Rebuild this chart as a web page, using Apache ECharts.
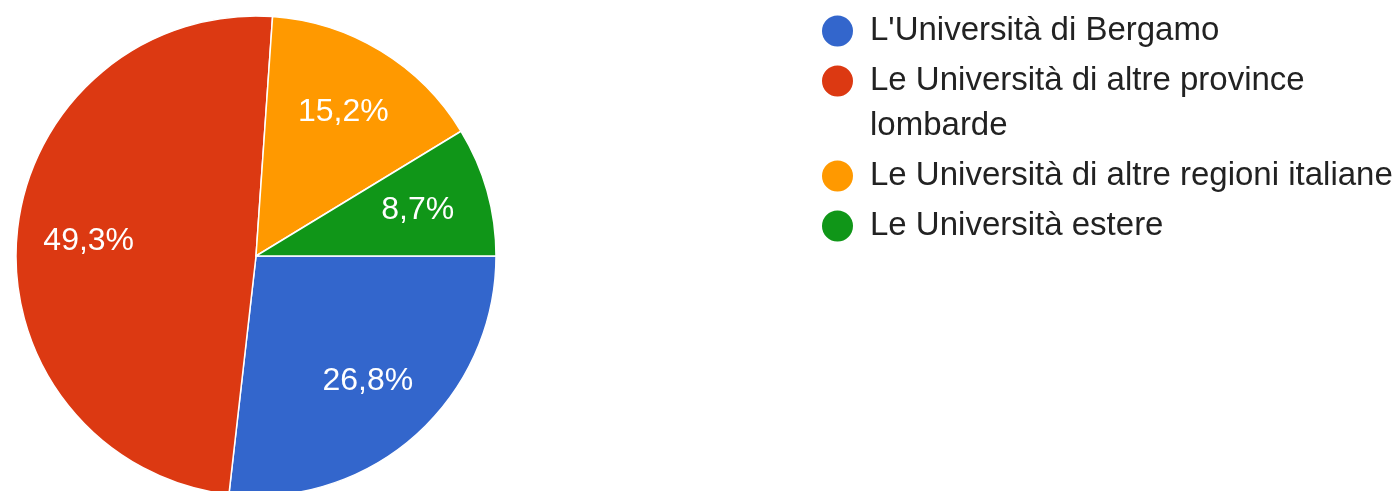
<!DOCTYPE html>
<html>
<head>
<meta charset="utf-8">
<script src="https://cdn.jsdelivr.net/npm/echarts@6/dist/echarts.min.js"></script>
<style>
  html, body { margin: 0; padding: 0; background: #fff; }
  #main { width: 1397px; height: 491px; }
</style>
</head>
<body>
<div id="main"></div>
<script>
  // dati
  var categories = ["L'Università di Bergamo", 'Le Università di altre province lombarde', 'Le Università di altre regioni italiane', 'Le Università estere'];
  var values = [26.8, 49.3, 15.2, 8.7];
  var colors = ['#3366cc', '#dc3912', '#ff9900', '#109618'];
  var legendLabels = ["L'Università di Bergamo", 'Le Università di altre province\nlombarde', 'Le Università di altre regioni italiane', 'Le Università estere'];

  var pieData = categories.map(function (name, i) {
    return {value: values[i], name: name};
  });

  var legendText = {
    fontFamily: 'Liberation Sans, Arial, sans-serif',
    fontSize: 33,
    lineHeight: 45,
    color: '#222222',
    padding: [0, 0, 0, 12]
  };
  // cerchio in alto, con un punto in basso per tenere lo spazio della seconda riga
  var tallCircle = 'path://M0,15.5A15.5,15.5,0,1,1,31,15.5A15.5,15.5,0,1,1,0,15.5ZM15.5,76L15.51,76Z';

  function makeLegend(names, top, itemHeight, icon) {
    return {
      orient: 'vertical',
      left: 822,
      top: top,
      padding: 0,
      itemGap: 5,
      itemWidth: 31,
      itemHeight: itemHeight,
      icon: icon,
      itemStyle: {borderWidth: 0},
      selectedMode: false,
      data: names,
      formatter: function (name) {
        return legendLabels[categories.indexOf(name)];
      },
      textStyle: legendText
    };
  }

  var myChart = echarts.init(document.getElementById('main'));
  myChart.setOption({
    animation: false,
    legend: [
      makeLegend([categories[0]], 8.5, 31, 'circle'),
      makeLegend([categories[1]], 58.5, 76, tallCircle),
      makeLegend([categories[2], categories[3]], 153.5, 31, 'circle')
    ],
    series: [
      {
        name: 'fette',
        type: 'pie',
        center: [256, 256],
        radius: [0, 240],
        startAngle: 0,
        clockwise: true,
        color: colors,
        label: {show: false},
        labelLine: {show: false},
        itemStyle: {borderColor: '#ffffff', borderWidth: 1.5},
        emphasis: {disabled: true},
        data: pieData
      },
      {
        name: 'etichette',
        type: 'pie',
        center: [256, 256],
        radius: [90, 240],
        startAngle: 0,
        clockwise: true,
        silent: true,
        itemStyle: {color: 'rgba(0,0,0,0)', borderWidth: 0},
        emphasis: {disabled: true},
        label: {
          show: true,
          position: 'inside',
          color: '#ffffff',
          fontFamily: 'Liberation Sans, Arial, sans-serif',
          fontSize: 32,
          formatter: function (p) {
            return p.value.toFixed(1).replace('.', ',') + '%';
          }
        },
        labelLine: {show: false},
        data: pieData
      }
    ]
  });
</script>
</body>
</html>
